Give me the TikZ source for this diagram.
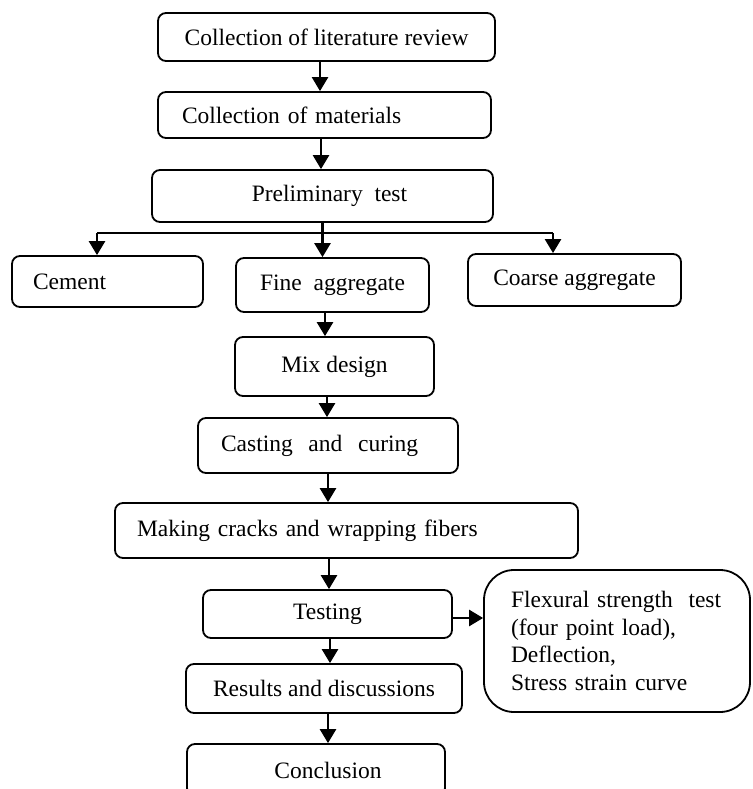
\documentclass[tikz,border=0pt]{standalone}
\usepackage{fontspec}
\setmainfont{Liberation Serif}
\usetikzlibrary{arrows.meta}
\begin{document}
\begin{tikzpicture}[x=1pt,y=-1pt,
  box/.style={draw, line width=1.8pt, rounded corners=8pt, inner sep=0pt,
              font=\fontsize{23.5}{27.7}\selectfont},
  arr/.style={line width=2.5pt, -{Triangle[length=14pt,width=16pt]}},
  link/.style={line width=2.5pt}]
\useasboundingbox (0,0) rectangle (752,789);

\node[box, minimum width=337pt, minimum height=48pt] (lit) at (326.5,37) {Collection of literature review};
\node[box, minimum height=46pt, text width=285pt, inner xsep=24pt, align=left] (mat) at (324.5,115) {Collection of materials};
\node[box, minimum width=341pt, minimum height=52pt] (pre) at (322.5,196) {\hspace*{14pt}Preliminary\ \ test};
\node[box, minimum height=51pt, text width=149pt, inner xsep=21pt, align=left] (cement) at (107.5,281.5) {Cement};
\node[box, minimum width=193pt, minimum height=54pt] (fine) at (332.5,285) {Fine\ \ aggregate};
\node[box, minimum width=213pt, minimum height=52pt] (coarse) at (574.5,280) {Coarse aggregate};
\node[box, minimum width=199pt, minimum height=59pt] (mix) at (334.5,366.5) {Mix design};
\node[box, minimum height=55pt, text width=214pt, inner xsep=23pt, align=left] (cast) at (328,445.5) {Casting\ \ and\ \ curing};
\node[box, minimum height=55pt, text width=419pt, inner xsep=22pt, align=left] (make) at (346.5,530.5) {Making cracks and wrapping fibers};
\node[box, minimum width=249pt, minimum height=48pt] (test) at (327.5,614) {Testing};
\node[box, rounded corners=30pt, minimum height=142pt, text width=212pt, inner xsep=27pt, align=left] (flex) at (617,641)
  {Flexural strength\ \ test\\(four point load),\\Deflection,\\Stress strain curve};
\node[box, minimum width=276pt, minimum height=49pt] (res) at (324,688.5) {Results and discussions};
\node[box, minimum width=258pt, minimum height=52pt] (conc) at (316,770) {\hspace*{24pt}Conclusion};

\draw[arr] ([xshift=-6.5pt]lit.south) -- ([xshift=-6.5pt]lit.south |- mat.north);
\draw[arr] ([xshift=-3.5pt]mat.south) -- ([xshift=-3.5pt]mat.south |- pre.north);
\draw[arr] (pre.south) -- (pre.south |- fine.north);
\coordinate (hl) at (97,233);
\coordinate (hr) at (553,233);
\draw[link] (hl) -- (hr);
\draw[arr] (hl) -- (hl |- cement.north);
\draw[arr] (hr) -- (hr |- coarse.north);
\draw[arr] ([xshift=-7.5pt]fine.south) -- ([xshift=-7.5pt]fine.south |- mix.north);
\draw[arr] ([xshift=-7.5pt]mix.south) -- ([xshift=-7.5pt]mix.south |- cast.north);
\draw[arr] (cast.south) -- (cast.south |- make.north);
\draw[arr] ([xshift=-17.5pt]make.south) -- ([xshift=-17.5pt]make.south |- test.north);
\draw[arr] ([yshift=-4pt]test.east) -- ([yshift=-4pt]test.east -| flex.west);
\draw[arr] ([xshift=2.5pt]test.south) -- ([xshift=2.5pt]test.south |- res.north);
\draw[arr] ([xshift=4pt]res.south) -- ([xshift=4pt]res.south |- conc.north);
\end{tikzpicture}
\end{document}
